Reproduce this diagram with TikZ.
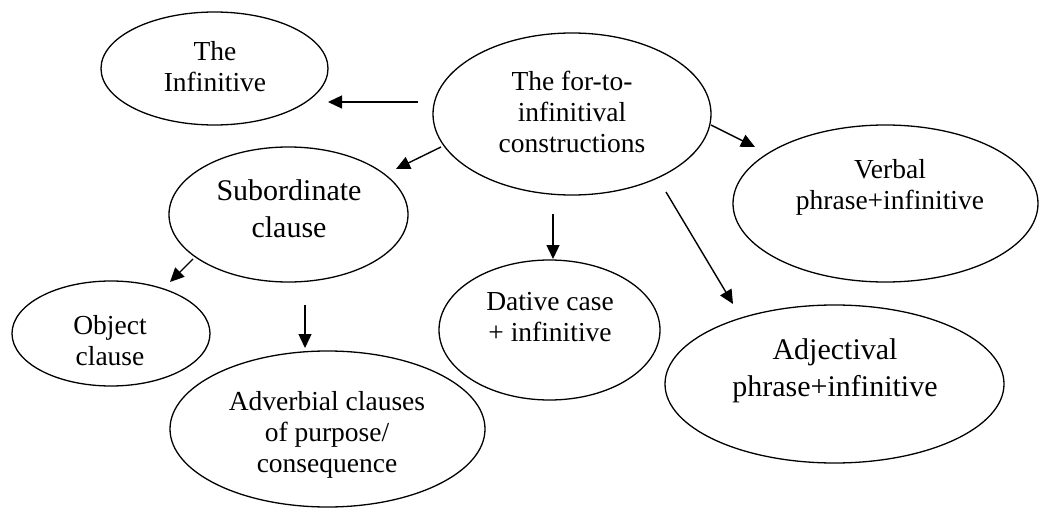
\documentclass[tikz,border=0pt]{standalone}
\usepackage{fontspec}
\setmainfont{Liberation Serif}
\usetikzlibrary{shapes.geometric,arrows.meta,calc}
\begin{document}
\begin{tikzpicture}[x=1pt,y=-1pt,
  ell/.style={draw, ellipse, line width=1.3pt, inner sep=0pt},
  txt/.style={align=center, inner sep=0pt, font=\fontsize{27.5}{31}\selectfont},
  big/.style={font=\fontsize{30}{37}\selectfont},
  arr/.style={line width=1.4pt, -{Triangle[length=14pt,width=13pt]}}]
\useasboundingbox (0,0) rectangle (1042,508);

% ellipses
\node[ell, minimum width=227pt, minimum height=113pt] (inf)  at (214.5,68.5) {};
\node[ell, minimum width=278pt, minimum height=162pt] (fort) at (572,114) {};
\node[ell, minimum width=239pt, minimum height=135pt] (sub)  at (288.5,214.5) {};
\node[ell, minimum width=305pt, minimum height=157pt] (verb) at (885.5,203.5) {};
\node[ell, minimum width=198pt, minimum height=105pt] (obj)  at (111,333.5) {};
\node[ell, minimum width=221pt, minimum height=140pt] (dat)  at (549.5,330) {};
\node[ell, minimum width=339pt, minimum height=158pt] (adj)  at (834.5,384) {};
\node[ell, minimum width=315pt, minimum height=156pt] (adv)  at (327.5,429) {};

% texts
\node[txt] (inf-t)  at (215,67)    {The\\Infinitive};
\node[txt] (fort-t) at (572,112)   {The for-to-\\infinitival\\constructions};
\node[txt,big] (sub-t) at (289,208.5) {Subordinate\\clause};
\node[txt] (verb-t) at (890,187.5) {Verbal\\phrase+infinitive};
\node[txt] (obj-t)  at (110,341)   {Object\\clause};
\node[txt] (dat-t)  at (550,317.5) {Dative case\\+ infinitive};
\node[txt,big] (adj-t) at (835,371) {Adjectival\\phrase+infinitive};
\node[txt] (adv-t)  at (327,435)   {Adverbial clauses\\of purpose/\\consequence};

% connectors
\draw[arr] ($(fort.center)+(-154,-12)$) -- ($(inf.center)+(113.5,33.5)$);
\draw[arr] ($(fort.center)+(-131,33)$) -- ($(sub.center)+(107.5,-45.5)$);
\draw[arr] ($(fort.center)+(139,11)$) -- ($(verb.center)+(-130.5,-56.5)$);
\draw[arr] ($(fort.center)+(-19,100)$) -- ($(dat.center)+(3.5,-71)$);
\draw[arr] ($(fort.center)+(94,78)$) -- ($(adj.center)+(-101.5,-80)$);
\draw[arr] ($(sub.center)+(-95.5,44.5)$) -- ($(obj.center)+(59,-51.5)$);
\draw[arr] ($(sub.center)+(16.5,90.5)$) -- ($(adv.center)+(-22.5,-81)$);
\end{tikzpicture}
\end{document}
